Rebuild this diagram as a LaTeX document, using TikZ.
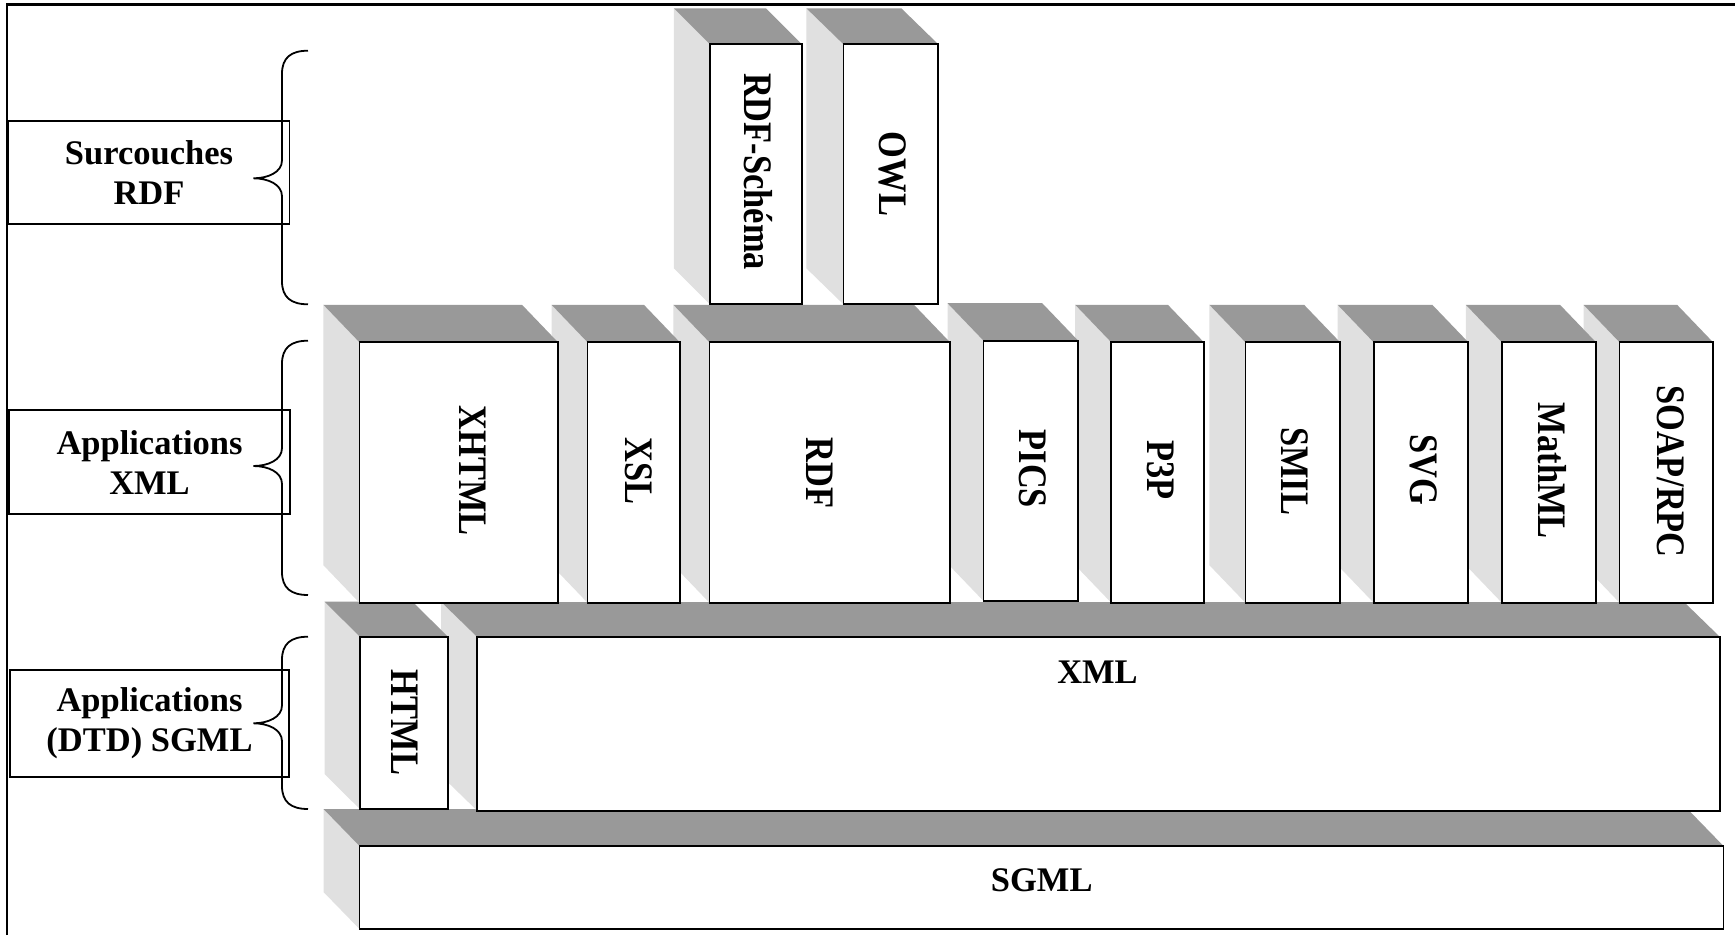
\documentclass[tikz,border=0pt]{standalone}
\usepackage{fontspec}
\setmainfont{Liberation Serif}
\usepackage{graphicx}
\definecolor{topgray}{HTML}{999999}
\definecolor{sidegray}{HTML}{E0E0E0}
% #1 name, #2 x1, #3 y1, #4 x2, #5 y2 (front face), #6 dx, #7 dy (depth)
\newcommand\layerbox[7]{%
  \pgfmathsetmacro\lbw{#4-#2}\pgfmathsetmacro\lbh{#5-#3}%
  \fill[sidegray] ({#2-#6},{#3-#7}) -- ({#2-#6},{#5-#7}) -- (#2,#5) -- (#2,#3) -- cycle;
  \fill[topgray] ({#2-#6},{#3-#7}) -- ({#4-#6},{#3-#7}) -- (#4,#3) -- (#2,#3) -- cycle;
  \node[frontface, minimum width=\lbw pt, minimum height=\lbh pt, anchor=north west] (#1) at (#2,#3) {};
}
% #1 top y, #2 tip y, #3 bottom y
\newcommand\sidebrace[3]{%
  \draw[bracestyle] (308,#1) .. controls (291,#1) and (282,{#1+7}) .. (282,{#1+23})
    -- (282,{#2-18}) .. controls (282,{#2-6}) and (268,#2) .. (253.3,#2)
    .. controls (268,#2) and (282,{#2+6}) .. (282,{#2+18})
    -- (282,{#3-23}) .. controls (282,{#3-7}) and (291,#3) .. (308,#3);
}
\newcommand\condtext[1]{\scalebox{0.85}[1]{#1}}
\begin{document}
\begin{tikzpicture}[x=1pt, y=-1pt,
  frontface/.style={draw=black, fill=white, line width=1.8pt, inner sep=0pt, outer sep=0pt},
  bracestyle/.style={draw=black, line width=1.8pt},
  sidelabel/.style={draw=black, line width=1.8pt, inner sep=0pt, outer sep=0pt, align=center,
    font=\fontsize{34.5}{40}\selectfont\bfseries},
  vlabel/.style={rotate=-90, inner sep=0pt, text height=27.4pt, text depth=0pt,
    font=\fontsize{40.5}{40.5}\selectfont\bfseries},
  hlabel/.style={inner sep=0pt, anchor=base, font=\fontsize{34.5}{34.5}\selectfont\bfseries}]
\useasboundingbox (0,0) rectangle (1735,935);
\fill[white] (0,0) rectangle (1735,935);
% frame
\draw[line width=2.2pt] (6.7,935) -- (6.7,4.5) -- (1735,4.5);

% left labels and braces
\node[sidelabel, minimum width=281pt, minimum height=103.6pt] (lab-rdf) at (149,172.5) {Surcouches\\RDF};
\node[sidelabel, minimum width=281pt, minimum height=104.3pt] (lab-xml) at (149.5,462.2) {Applications\\XML};
\node[sidelabel, minimum width=279.5pt, minimum height=106.4pt] (lab-sgml) at (149.5,723.5) {Applications\\(DTD) SGML};
\sidebrace{50.7}{178.3}{304.3}
\sidebrace{340.7}{466}{595}
\sidebrace{636.7}{723.3}{809}

% bottom layer
\layerbox{sgml}{359.5}{846}{1723.5}{929}{36}{37}
% SGML applications layer
\layerbox{xml}{477.2}{637}{1720}{810.7}{36}{35}
\layerbox{html}{359.8}{636.7}{447.8}{809}{35.2}{35}
% XML applications layer
\layerbox{soap}{1619.5}{342.3}{1713.1}{602.7}{36}{37.5}
\layerbox{mathml}{1501.8}{342.3}{1596}{602.7}{36}{37.5}
\layerbox{svg}{1373.6}{342.3}{1468.3}{602.7}{36}{37.5}
\layerbox{smil}{1245.4}{342.3}{1340.1}{602.7}{36}{37.5}
\layerbox{p3p}{1111.2}{342.3}{1203.9}{602.7}{36}{37.5}
\layerbox{pics}{983.5}{340.7}{1078.2}{601}{36}{37.5}
\layerbox{rdf}{709.4}{342.3}{950}{602.7}{36}{37.5}
\layerbox{xsl}{587.5}{342.3}{679.9}{602.7}{36}{37.5}
\layerbox{xhtml}{359.4}{342.3}{558}{602.7}{36}{37.5}
% RDF overlays
\layerbox{owl}{843.4}{44.3}{938.3}{304.3}{37}{36}
\layerbox{rdfs}{709.8}{44.3}{802}{304.3}{36}{36}

% texts
\node[vlabel] (t-rdfs) at (758.5,171.5) {\condtext{RDF-Schéma}};
\node[vlabel] (t-owl) at (892.8,174) {\condtext{OWL}};
\node[vlabel] (t-xhtml) at (473,470.8) {\condtext{XHTML}};
\node[vlabel] (t-xsl) at (638.8,471.3) {\condtext{XSL}};
\node[vlabel] (t-rdf) at (820.5,472.8) {\condtext{RDF}};
\node[vlabel] (t-pics) at (1033.1,468.8) {\condtext{PICS}};
\node[vlabel] (t-p3p) at (1161.5,470) {\condtext{P3P}};
\node[vlabel] (t-smil) at (1295.5,471) {\condtext{SMIL}};
\node[vlabel] (t-svg) at (1424.5,470) {\condtext{SVG}};
\node[vlabel] (t-mathml) at (1552,470.8) {\condtext{MathML}};
\node[vlabel] (t-soap) at (1671,471.7) {\condtext{SOAP/RPC}};
\node[vlabel] (t-html) at (405.1,722.5) {\condtext{HTML}};
\node[hlabel] (t-xml) at (1097.5,683.3) {XML};
\node[hlabel] (t-sgml) at (1041.7,891.7) {SGML};
\end{tikzpicture}
\end{document}
